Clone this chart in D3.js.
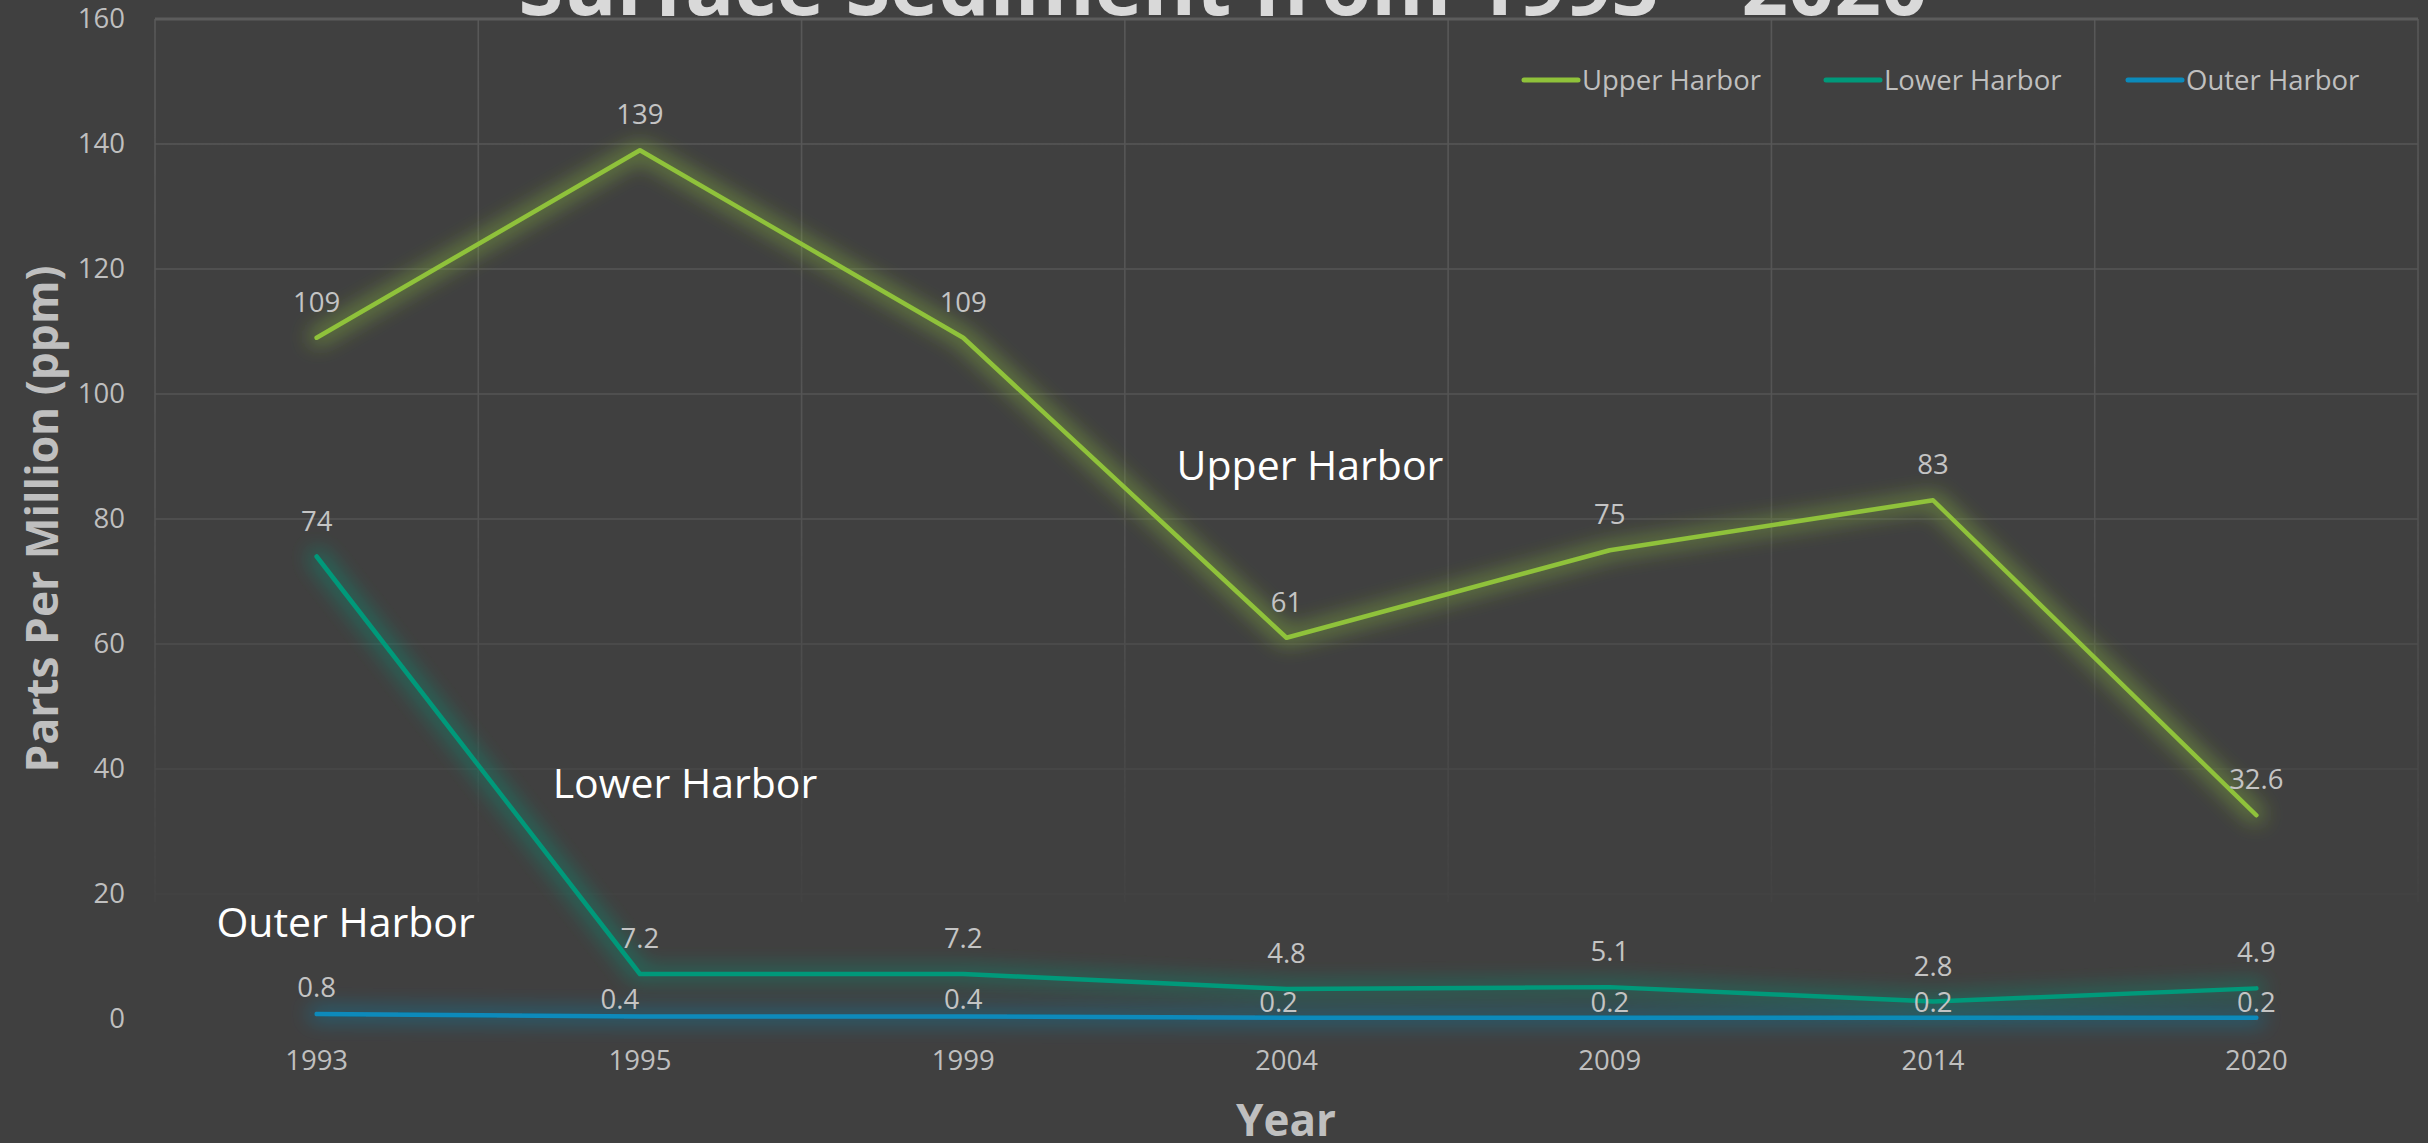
<!DOCTYPE html>
<html>
<head>
<meta charset="utf-8">
<script src="https://cdn.jsdelivr.net/npm/d3@7"></script>
<style>
  html, body { margin: 0; padding: 0; background: #404040; overflow: hidden; }
  svg { display: block; }
  text { font-family: "Open Sans", "Noto Sans", sans-serif; }
</style>
</head>
<body>
<div id="chart"></div>
<script>
// data
var years = ["1993", "1995", "1999", "2004", "2009", "2014", "2020"];
var seriesNames = ["Upper Harbor", "Lower Harbor", "Outer Harbor"];
var upperHarbor = [109, 139, 109, 61, 75, 83, 32.6];
var lowerHarbor = [74, 7.2, 7.2, 4.8, 5.1, 2.8, 4.9];
var outerHarbor = [0.8, 0.4, 0.4, 0.2, 0.2, 0.2, 0.2];
var yTicks = [0, 20, 40, 60, 80, 100, 120, 140, 160];

// label nudges for the crowded outer series (px)
var outerLabelDy = [-17, -8, -8, -6, -6, -6, -6];
var outerLabelDx = [0, -20, 0, -8, 0, 0, 0];

// in-chart annotations: [text, category position, value at baseline]
var notes = [
  ["Upper Harbor", 2.66, 86.2],
  ["Lower Harbor", 0.73, 35.4],
  ["Outer Harbor", -0.31, 13.1]
];

var colors = ["#8fc23a", "#00997a", "#0b8abb"];

var w = 2428, h = 1143;
var pl = 155, pr = 2418, pt = 19, pb = 1019;

var svg = d3.select("#chart").append("svg")
  .attr("width", w).attr("height", h);

svg.append("rect").attr("width", w).attr("height", h).attr("fill", "#404040");

var x = d3.scaleBand().domain(years).range([pl, pr]).paddingInner(0).paddingOuter(0);
var y = d3.scaleLinear().domain([0, 160]).range([pb, pt]);
var cx = function(i) { return x(years[0]) + x.bandwidth() * (i + 0.5); };

var defs = svg.append("defs");

// grid fades out toward the bottom
var gridEnd = y(20) + 8;
var grad = defs.append("linearGradient").attr("id", "fade")
  .attr("gradientUnits", "userSpaceOnUse")
  .attr("x1", 0).attr("y1", pt).attr("x2", 0).attr("y2", gridEnd);
grad.append("stop").attr("offset", 0).attr("stop-color", "#fff").attr("stop-opacity", 1);
grad.append("stop").attr("offset", 0.55).attr("stop-color", "#fff").attr("stop-opacity", 0.8);
grad.append("stop").attr("offset", 1).attr("stop-color", "#fff").attr("stop-opacity", 0.12);
defs.append("mask").attr("id", "gridMask")
  .attr("maskUnits", "userSpaceOnUse")
  .attr("x", 0).attr("y", 0).attr("width", w).attr("height", h)
  .append("rect").attr("x", 0).attr("y", 0).attr("width", w).attr("height", gridEnd)
  .attr("fill", "url(#fade)");

// soft halo round each line
var glow = defs.append("filter").attr("id", "glow")
  .attr("filterUnits", "userSpaceOnUse")
  .attr("x", 0).attr("y", 0).attr("width", w).attr("height", h);
glow.append("feMorphology").attr("in", "SourceGraphic").attr("operator", "dilate")
  .attr("radius", 5).attr("result", "d");
glow.append("feGaussianBlur").attr("in", "d").attr("stdDeviation", 10).attr("result", "b");
glow.append("feComponentTransfer").attr("in", "b").attr("result", "bb")
  .append("feFuncA").attr("type", "linear").attr("slope", 0.45);
var mrg = glow.append("feMerge");
mrg.append("feMergeNode").attr("in", "bb");
mrg.append("feMergeNode").attr("in", "SourceGraphic");

// gridlines
var grid = svg.append("g").attr("mask", "url(#gridMask)")
  .attr("stroke", "#585858").attr("stroke-width", 1.6);
grid.selectAll("line.h").data(yTicks.filter(function(d) { return d > 0; }))
  .enter().append("line")
  .attr("x1", pl).attr("x2", pr)
  .attr("y1", function(d) { return y(d); }).attr("y2", function(d) { return y(d); });
grid.selectAll("line.v").data(d3.range(years.length + 1))
  .enter().append("line")
  .attr("x1", function(i) { return pl + x.bandwidth() * i; })
  .attr("x2", function(i) { return pl + x.bandwidth() * i; })
  .attr("y1", pt).attr("y2", gridEnd);
grid.append("line").attr("x1", pl).attr("x2", pr).attr("y1", pt).attr("y2", pt)
  .attr("stroke", "#5c5c5c").attr("stroke-width", 3);

// axes
var yAxis = svg.append("g").attr("transform", "translate(" + (pl - 30) + ",0)")
  .call(d3.axisLeft(y).tickValues(yTicks).tickSize(0).tickPadding(0));
yAxis.select(".domain").remove();
yAxis.selectAll("text").attr("fill", "#bfbfbf").style("font-size", "27.5px");

var xAxis = svg.append("g").attr("transform", "translate(0," + (pb + 31) + ")")
  .call(d3.axisBottom(x).tickSize(0).tickPadding(0));
xAxis.select(".domain").remove();
xAxis.selectAll("text").attr("fill", "#bfbfbf").style("font-size", "27.5px").attr("dy", "0.71em");

// lines
var allSeries = [upperHarbor, lowerHarbor, outerHarbor];
var line = d3.line().x(function(d, i) { return cx(i); }).y(function(d) { return y(d); });

svg.selectAll("path.series").data(allSeries.slice().reverse())
  .enter().append("path")
  .attr("class", "series")
  .attr("d", line)
  .attr("fill", "none")
  .attr("stroke", function(d, i) { return colors[2 - i]; })
  .attr("stroke-width", 4.5)
  .attr("stroke-linecap", "round")
  .attr("stroke-linejoin", "round")
  .attr("filter", "url(#glow)");

// data labels
allSeries.forEach(function(vals, s) {
  svg.append("g").selectAll("text").data(vals).enter().append("text")
    .attr("x", function(d, i) { return cx(i) + (s === 2 ? outerLabelDx[i] : 0); })
    .attr("y", function(d, i) { return y(d) + (s === 2 ? outerLabelDy[i] : -26); })
    .attr("text-anchor", "middle")
    .attr("fill", "#c4c4c4")
    .style("font-size", "27.5px")
    .text(function(d) { return d; });
});

// annotations
svg.append("g").selectAll("text").data(notes).enter().append("text")
  .attr("x", function(d) { return cx(d[1]); })
  .attr("y", function(d) { return y(d[2]); })
  .attr("fill", "#ffffff")
  .style("font-size", "41px")
  .text(function(d) { return d[0]; });

// legend
var leg = svg.append("g").selectAll("g").data(seriesNames).enter().append("g")
  .attr("transform", function(d, i) { return "translate(" + (1524 + i * 302) + ",80)"; });
leg.append("line").attr("x1", 0).attr("x2", 54).attr("y1", 0).attr("y2", 0)
  .attr("stroke", function(d, i) { return colors[i]; })
  .attr("stroke-width", 5).attr("stroke-linecap", "round");
leg.append("text").attr("x", 58).attr("y", 0).attr("dy", "0.35em")
  .attr("fill", "#bfbfbf").style("font-size", "27.5px")
  .text(function(d) { return d; });

// fit a text to a target width
function fit(sel, width) {
  var fs = parseFloat(sel.style("font-size"));
  var len = sel.node().getComputedTextLength();
  sel.style("font-size", (fs * width / len) + "px");
}

// titles
var title = svg.append("text").attr("x", 1223).attr("y", 15)
  .attr("text-anchor", "middle").attr("fill", "#d9d9d9")
  .style("font-weight", "bold").style("font-size", "80px")
  .text("Surface Sediment from 1993 \u2013 2020");
fit(title, 1409);

var yTitle = svg.append("text")
  .attr("transform", "translate(58," + ((pt + pb) / 2) + ") rotate(-90)")
  .attr("text-anchor", "middle").attr("fill", "#bfbfbf")
  .style("font-weight", "bold").style("font-size", "44px")
  .text("Parts Per Million (ppm)");
fit(yTitle, 507);

svg.append("text").attr("x", 1286).attr("y", 1136)
  .attr("text-anchor", "middle").attr("fill", "#bfbfbf")
  .style("font-weight", "bold").style("font-size", "44px")
  .text("Year");
</script>
</body>
</html>
